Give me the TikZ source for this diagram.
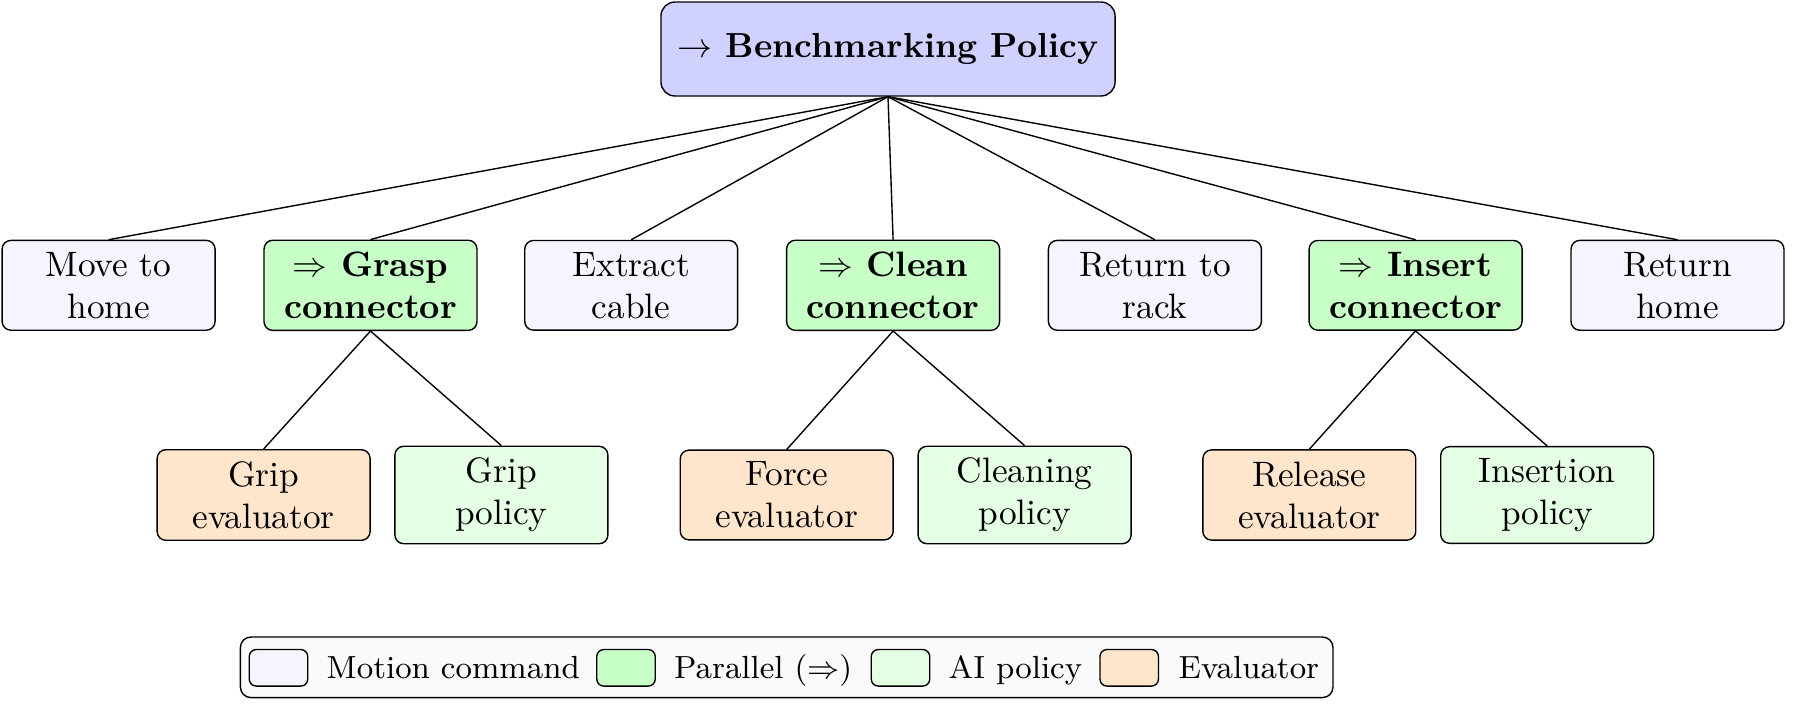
\documentclass[tikz,border=0pt]{standalone}
\begin{document}
\begin{tikzpicture}[x=0.2874pt,y=-0.2874pt,
  base/.style={draw, rounded corners=2.5pt, align=center, minimum width=61.2pt, inner sep=3.33pt, font=\fontsize{10.15}{12.1}\selectfont},
  motion/.style={base, fill=blue!4},
  parallelbox/.style={base, fill=green!22, font=\fontsize{10.15}{12.1}\selectfont\bfseries},
  aibox/.style={base, fill=green!10},
  evalbox/.style={base, fill=orange!20},
  rootbox/.style={draw, rounded corners=4pt, fill=blue!18, font=\bfseries, minimum width=130.5pt, minimum height=27pt},
  swatch/.style={draw, rounded corners=2pt, minimum width=16.8pt, minimum height=10.5pt, inner sep=0pt},
  legtext/.style={anchor=base west, inner sep=0pt, font=\fontsize{9.2}{11}\selectfont},
  link/.style={draw}
]
\useasboundingbox (0,0) rectangle (1793,705);

\node[rootbox] (root) at (888,49) {$\rightarrow$ Benchmarking Policy};

\node[motion] (m1) at (108.6,285.3) {Move to\\home};
\node[parallelbox] (g) at (370.5,285.3) {$\Rightarrow$ Grasp\\connector};
\node[motion] (m2) at (631.2,285.3) {Extract\\cable};
\node[parallelbox] (c) at (893.1,285.3) {$\Rightarrow$ Clean\\connector};
\node[motion] (m3) at (1154.9,285.3) {Return to\\rack};
\node[parallelbox] (i) at (1415.6,285.3) {$\Rightarrow$ Insert\\connector};
\node[motion] (m4) at (1677.5,285.3) {Return\\home};

\node[evalbox] (ge) at (263.6,495) {Grip\\evaluator};
\node[aibox] (gp) at (501.4,495) {Grip\\policy};
\node[evalbox] (ce) at (786.7,495) {Force\\evaluator};
\node[aibox] (cp) at (1024.6,495) {Cleaning\\policy};
\node[evalbox] (ie) at (1309.3,495) {Release\\evaluator};
\node[aibox] (ip) at (1547.2,495) {Insertion\\policy};

\foreach \n in {m1,g,m2,c,m3,i,m4} \draw[link] (root.south) -- (\n.north);
\draw[link] (g.south) -- (ge.north);
\draw[link] (g.south) -- (gp.north);
\draw[link] (c.south) -- (ce.north);
\draw[link] (c.south) -- (cp.north);
\draw[link] (i.south) -- (ie.north);
\draw[link] (i.south) -- (ip.north);

\node[draw, rounded corners=3pt, fill=gray!4, minimum width=314pt, minimum height=17.4pt, inner sep=0pt] (legend) at (786.7,667.3) {};
\node[swatch, fill=blue!4] (s1) at (278.5,667.8) {};
\node[swatch, fill=green!22] (s2) at (626,667.8) {};
\node[swatch, fill=green!10] (s3) at (900.5,667.8) {};
\node[swatch, fill=orange!20] (s4) at (1129.2,667.8) {};
\node[legtext] (t1) at (326,678) {Motion command};
\node[legtext] (t2) at (673.5,678) {Parallel ($\Rightarrow$)};
\node[legtext] (t3) at (948,678) {AI policy};
\node[legtext] (t4) at (1178,678) {Evaluator};
\end{tikzpicture}
\end{document}
